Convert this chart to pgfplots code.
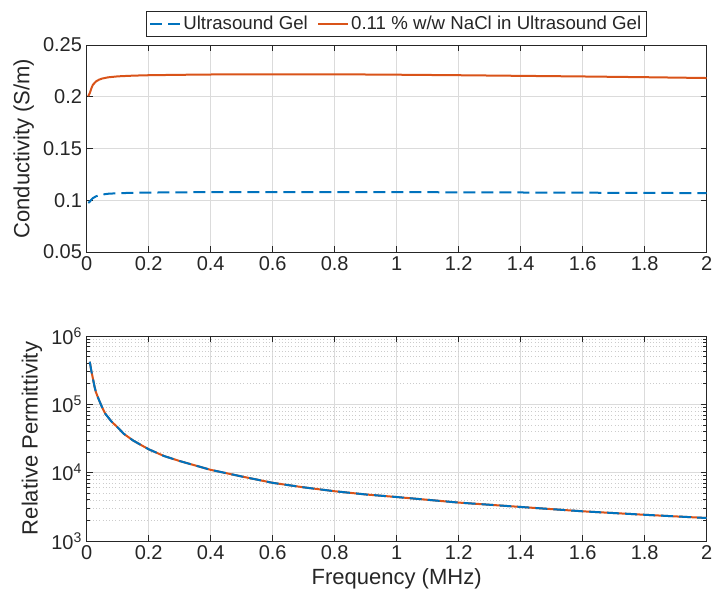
\documentclass[border=0pt]{standalone}
\usepackage{fontspec}
\setmainfont{Liberation Sans}
\usepackage{pgfplots}
\pgfplotsset{compat=1.18}
\definecolor{mblue}{rgb}{0,0.447,0.741}
\definecolor{morange}{rgb}{0.85,0.325,0.098}
\definecolor{maxis}{rgb}{0.15,0.15,0.15}

\pgfplotsset{
  mstyle/.style={
    scale only axis,
    width=465pt,
    xmin=0, xmax=2,
    xtick={0,0.2,0.4,0.6,0.8,1,1.2,1.4,1.6,1.8,2},
    xticklabels={0,0.2,0.4,0.6,0.8,1,1.2,1.4,1.6,1.8,2},
    tick align=inside,
    major tick length=4.5pt,
    minor tick length=2.5pt,
    axis line style={maxis, line width=0.6pt},
    tick style={maxis, line width=0.6pt},
    ticklabel style={font=\fontsize{15}{17}\selectfont, text=maxis},
    label style={font=\fontsize{16.5}{19}\selectfont, text=maxis},
    /pgf/number format/assume math mode=true,
    xmajorgrids, ymajorgrids,
    major grid style={gray!28, line width=0.5pt},
    clip mode=individual,
  },
}

\begin{document}
\begin{tikzpicture}
\path[use as bounding box] (0,0) rectangle (536.25pt,-453pt);

% top: conductivity
\begin{axis}[
  mstyle,
  at={(65pt,-189pt)}, anchor=south west,
  height=155.25pt,
  ymin=0.05, ymax=0.25,
  ytick={0.05,0.1,0.15,0.2,0.25},
  yticklabels={0.05,0.1,0.15,0.2,0.25},
  ylabel={Conductivity (S/m)},
  legend columns=2,
  legend style={at={(0.5,1)}, anchor=south, yshift=6pt,
    draw=maxis, line width=0.6pt, font=\fontsize{14}{16}\selectfont, text=maxis,
    inner xsep=2pt, inner ysep=1.5pt,
    /tikz/every even column/.append style={column sep=5pt}},
  legend image code/.code={\draw[#1] (0pt,0pt) -- (22pt,0pt);},
]
\addplot[mblue, line width=1.5pt, dash pattern=on 9pt off 4.5pt] coordinates {
  (0.005,0.0975) (0.01,0.0985) (0.015,0.1005) (0.02,0.102) (0.03,0.1038)
  (0.04,0.1048) (0.05,0.1055) (0.07,0.1063) (0.1,0.1068) (0.15,0.1072)
  (0.2,0.1074) (0.3,0.1077) (0.4,0.1078) (0.6,0.1079) (0.8,0.1079)
  (1.0,0.1078) (1.2,0.1077) (1.4,0.1075) (1.6,0.1073) (1.8,0.1071) (2.0,0.1069)
};
\addlegendentry{Ultrasound Gel}
\addplot[morange, line width=1.5pt] coordinates {
  (0.005,0.2005) (0.01,0.2035) (0.015,0.208) (0.02,0.2115) (0.03,0.2148)
  (0.04,0.2165) (0.05,0.2176) (0.07,0.2188) (0.1,0.2197) (0.15,0.2204)
  (0.2,0.2208) (0.3,0.2212) (0.4,0.2215) (0.5,0.2216) (0.6,0.2217)
  (0.7,0.2217) (0.8,0.2216) (0.9,0.2215) (1.0,0.2213) (1.2,0.2208)
  (1.4,0.2202) (1.6,0.2196) (1.8,0.2189) (2.0,0.2181)
};
\addlegendentry{0.11 \% w/w NaCl in Ultrasound Gel}
\end{axis}

% bottom: relative permittivity
\begin{axis}[
  mstyle,
  at={(65pt,-405.75pt)}, anchor=south west,
  height=153.75pt,
  ymode=log,
  ymin=1e3, ymax=1e6,
  ytick={1e3,1e4,1e5,1e6},
  yticklabels={10\textsuperscript{3},10\textsuperscript{4},10\textsuperscript{5},10\textsuperscript{6}},
  yminorgrids,
  minor grid style={gray!40, dotted, line width=0.5pt},
  ylabel={Relative Permittivity},
  xlabel={Frequency (MHz)},
]
\addplot[morange, line width=1.5pt] coordinates {
  (0.01,4.2e5) (0.015,3.1e5) (0.02,2.4e5) (0.025,1.85e5) (0.03,1.5e5)
  (0.04,1.15e5) (0.05,9.0e4) (0.06,7.3e4) (0.08,5.6e4) (0.1,4.6e4)
  (0.12,3.7e4) (0.15,2.95e4) (0.2,2.2e4) (0.25,1.75e4) (0.3,1.48e4)
  (0.4,1.1e4) (0.5,8.8e3) (0.6,7.1e3) (0.7,6.1e3) (0.8,5.35e3)
  (0.9,4.8e3) (1.0,4.4e3) (1.2,3.65e3) (1.4,3.15e3) (1.6,2.72e3)
  (1.8,2.42e3) (2.0,2.17e3)
};
\addplot[mblue, line width=1.5pt, dash pattern=on 9pt off 4.5pt] coordinates {
  (0.01,4.2e5) (0.015,3.1e5) (0.02,2.4e5) (0.025,1.85e5) (0.03,1.5e5)
  (0.04,1.15e5) (0.05,9.0e4) (0.06,7.3e4) (0.08,5.6e4) (0.1,4.6e4)
  (0.12,3.7e4) (0.15,2.95e4) (0.2,2.2e4) (0.25,1.75e4) (0.3,1.48e4)
  (0.4,1.1e4) (0.5,8.8e3) (0.6,7.1e3) (0.7,6.1e3) (0.8,5.35e3)
  (0.9,4.8e3) (1.0,4.4e3) (1.2,3.65e3) (1.4,3.15e3) (1.6,2.72e3)
  (1.8,2.42e3) (2.0,2.17e3)
};
\end{axis}
\end{tikzpicture}
\end{document}
